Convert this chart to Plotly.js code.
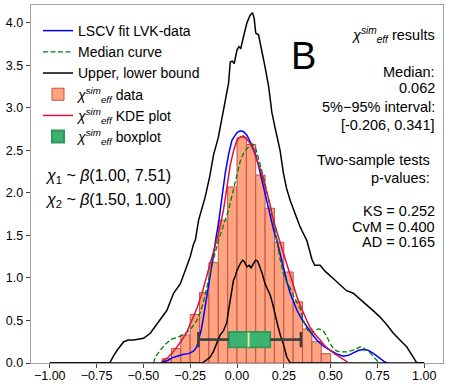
<!DOCTYPE html>
<html>
<head>
<meta charset="utf-8">
<script src="https://cdn.plot.ly/plotly-3.0.1.min.js"></script>
<style>
  body { margin: 0; background: #fff; }
  #plot { width: 449px; height: 387px; }
</style>
</head>
<body>
<div id="plot"></div>
<script>
// histogram of chi_eff sim (density)
var binCenters = [-0.375, -0.325, -0.275, -0.225, -0.175, -0.125, -0.075, -0.025, 0.025,
                  0.075, 0.125, 0.175, 0.225, 0.275, 0.325, 0.375, 0.425, 0.475];
var binDensity = [0.05, 0.17, 0.33, 0.57, 0.83, 1.18, 1.68, 2.07, 2.65,
                  2.57, 2.21, 1.82, 1.42, 1.07, 0.72, 0.40, 0.25, 0.11];

// LSCV fit of LVK data
var lscvX = [-0.405, -0.40, -0.37, -0.347, -0.32, -0.29, -0.259, -0.232, -0.215, -0.205, -0.19, -0.179,
             -0.165, -0.152, -0.14, -0.125, -0.11, -0.099, -0.08, -0.063, -0.045, -0.027, 0.0, 0.018,
             0.035, 0.053, 0.075, 0.098, 0.115, 0.133, 0.15, 0.169, 0.186, 0.196, 0.213, 0.23, 0.248,
             0.265, 0.284, 0.30, 0.32, 0.345, 0.373, 0.40, 0.426, 0.46, 0.497, 0.53, 0.568, 0.595,
             0.621, 0.65, 0.675, 0.70, 0.73, 0.764, 0.785, 0.80];
var lscvY = [0.0, 0.01, 0.03, 0.06, 0.08, 0.10, 0.11, 0.14, 0.19, 0.27, 0.40, 0.54,
             0.72, 0.89, 1.08, 1.28, 1.50, 1.64, 1.95, 2.23, 2.45, 2.62, 2.71, 2.73,
             2.72, 2.68, 2.58, 2.46, 2.32, 2.15, 1.98, 1.80, 1.66, 1.56, 1.44, 1.28, 1.13,
             0.97, 0.82, 0.72, 0.62, 0.52, 0.42, 0.34, 0.27, 0.20, 0.15, 0.11, 0.08, 0.09,
             0.12, 0.15, 0.16, 0.15, 0.11, 0.05, 0.02, 0.0];

// median curve
var medX = [-0.445, -0.436, -0.41, -0.383, -0.35, -0.32, -0.29, -0.267, -0.24, -0.214, -0.195, -0.179,
            -0.16, -0.143, -0.12, -0.099, -0.08, -0.063, -0.045, -0.036, -0.009, 0.018, 0.035, 0.053,
            0.08, 0.095, 0.106, 0.124, 0.15, 0.177, 0.204, 0.213, 0.23, 0.248, 0.265, 0.28, 0.30,
            0.32, 0.337, 0.355, 0.373, 0.39, 0.40, 0.42, 0.44, 0.46, 0.475, 0.497, 0.515, 0.533,
            0.56, 0.586, 0.62, 0.657, 0.675, 0.693, 0.715, 0.735, 0.755];
var medY = [0.0, 0.07, 0.15, 0.22, 0.28, 0.30, 0.33, 0.36, 0.42, 0.50, 0.60, 0.72,
            0.90, 1.07, 1.27, 1.44, 1.58, 1.68, 1.80, 1.88, 2.15, 2.38, 2.47, 2.52,
            2.58, 2.55, 2.48, 2.33, 2.11, 1.84, 1.56, 1.45, 1.22, 1.05, 0.95, 0.90, 0.80,
            0.72, 0.64, 0.50, 0.40, 0.35, 0.35, 0.39, 0.40, 0.38, 0.33, 0.23, 0.17, 0.14,
            0.13, 0.13, 0.15, 0.19, 0.18, 0.15, 0.11, 0.06, 0.01];

// upper bound
var upX = [-1.0, -0.68, -0.66, -0.64, -0.605, -0.58, -0.552, -0.499, -0.463, -0.427, -0.40, -0.374,
           -0.339, -0.303, -0.276, -0.25, -0.232, -0.222, -0.205, -0.17, -0.145, -0.125, -0.10, -0.08,
           -0.063, -0.045, -0.036, -0.025, -0.015, 0.0, 0.01, 0.02, 0.035, 0.053, 0.07, 0.083, 0.092,
           0.10, 0.115, 0.133, 0.15, 0.169, 0.186, 0.204, 0.23, 0.248, 0.265, 0.284, 0.31, 0.337,
           0.355, 0.373, 0.40, 0.415, 0.444, 0.47, 0.515, 0.55, 0.585, 0.621, 0.65, 0.693, 0.73,
           0.764, 0.80, 0.835, 0.87, 0.906, 0.935, 0.95, 0.96, 1.0];
var upY = [0, 0, 0.08, 0.15, 0.25, 0.27, 0.27, 0.29, 0.35, 0.46, 0.54, 0.62,
           0.82, 0.93, 1.09, 1.25, 1.40, 1.45, 1.68, 1.95, 2.2, 2.45, 2.65, 2.88,
           3.09, 3.29, 3.54, 3.55, 3.52, 3.68, 3.72, 3.70, 3.84, 4.0, 4.09, 4.12, 4.05,
           3.88, 3.86, 3.68, 3.48, 3.25, 2.95, 2.76, 2.50, 2.23, 2.05, 1.91, 1.75, 1.60,
           1.52, 1.44, 1.22, 1.15, 1.15, 1.08, 0.99, 0.92, 0.85, 0.82, 0.76, 0.68, 0.61,
           0.54, 0.45, 0.35, 0.27, 0.19, 0.09, 0.03, 0, 0];

// lower bound
var lowX = [-1.0, -0.185, -0.16, -0.143, -0.125, -0.107, -0.09, -0.072, -0.054, -0.045, -0.036, -0.027,
            -0.019, -0.008, 0.0, 0.018, 0.03, 0.04, 0.053, 0.065, 0.075, 0.088, 0.10, 0.11, 0.124,
            0.135, 0.15, 0.165, 0.177, 0.19, 0.204, 0.22, 0.235, 0.248, 0.266, 0.284, 1.0];
var lowY = [0, 0, 0.04, 0.07, 0.14, 0.25, 0.33, 0.38, 0.48, 0.62, 0.76, 0.90,
            0.97, 1.03, 1.09, 1.17, 1.21, 1.19, 1.13, 1.15, 1.12, 1.17, 1.21, 1.20, 1.12,
            1.05, 0.93, 0.86, 0.80, 0.70, 0.55, 0.42, 0.30, 0.22, 0.07, 0, 0];

// KDE of chi_eff sim
var kdeX = [-0.40, -0.365, -0.33, -0.294, -0.267, -0.24, -0.213, -0.187, -0.165, -0.143, -0.12, -0.099,
            -0.072, -0.055, -0.036, -0.018, 0.0, 0.018, 0.035, 0.053, 0.07, 0.088, 0.106, 0.124,
            0.141, 0.16, 0.177, 0.19, 0.204, 0.213, 0.23, 0.248, 0.265, 0.284, 0.30, 0.32, 0.337,
            0.355, 0.373, 0.39, 0.415, 0.444, 0.47, 0.497, 0.52, 0.55, 0.57, 0.59];
var kdeY = [0.02, 0.07, 0.16, 0.27, 0.37, 0.50, 0.65, 0.82, 0.99, 1.17, 1.36, 1.52,
            1.80, 2.05, 2.33, 2.50, 2.62, 2.66, 2.67, 2.63, 2.58, 2.50, 2.40, 2.28,
            2.15, 2.00, 1.86, 1.72, 1.60, 1.54, 1.42, 1.29, 1.15, 1.01, 0.90, 0.78, 0.68,
            0.58, 0.50, 0.42, 0.34, 0.27, 0.20, 0.15, 0.11, 0.07, 0.04, 0.01];

// boxplot stats: 5% whisker, q1, median, q3, 95% whisker
var boxStats = [-0.206, -0.043, 0.062, 0.177, 0.341];
var boxLevel = [0.275];

var chi = '<i>χ</i><sup><i>sim</i></sup><sub><i>eff</i></sub>';

var trace1 = {
  x: lscvX, y: lscvY, type: 'scatter', mode: 'lines',
  name: 'LSCV fit LVK-data',
  line: {color: '#0000ff', width: 1.5}
};
var trace2 = {
  x: medX, y: medY, type: 'scatter', mode: 'lines',
  name: 'Median curve',
  line: {color: '#008000', width: 1.3, dash: '5px,2.5px'}
};
var trace3 = {
  x: upX, y: upY, type: 'scatter', mode: 'lines',
  name: 'Upper, lower bound',
  line: {color: '#000000', width: 1.5}
};
var trace4 = {
  x: lowX, y: lowY, type: 'scatter', mode: 'lines',
  name: 'lower', showlegend: false,
  line: {color: '#000000', width: 1.5}
};
var trace5 = {
  x: binCenters, y: binDensity, type: 'bar', width: 0.05,
  name: chi + ' data',
  marker: {color: '#ffa47f', line: {color: '#c0504d', width: 1}}
};
var trace6 = {
  x: kdeX, y: kdeY, type: 'scatter', mode: 'lines',
  name: chi + ' KDE plot',
  line: {color: '#dc143c', width: 1.5}
};
var trace7 = {
  type: 'box', orientation: 'h',
  y: boxLevel,
  lowerfence: [boxStats[0]], q1: [boxStats[1]], median: [boxStats[2]],
  q3: [boxStats[3]], upperfence: [boxStats[4]],
  width: 0.18, whiskerwidth: 0,
  name: chi + ' boxplot',
  fillcolor: '#3cb371',
  line: {color: '#2e9a5e', width: 2}
};
// whiskers and caps on top of the box
var trace8 = {
  x: [boxStats[0], boxStats[1], null, boxStats[3], boxStats[4]],
  y: [boxLevel[0], boxLevel[0], null, boxLevel[0], boxLevel[0]],
  type: 'scatter', mode: 'lines', showlegend: false, hoverinfo: 'skip',
  line: {color: '#3d3d3d', width: 2.5}
};
var trace9 = {
  x: [boxStats[0], boxStats[0], null, boxStats[4], boxStats[4]],
  y: [boxLevel[0] - 0.09, boxLevel[0] + 0.09, null, boxLevel[0] - 0.09, boxLevel[0] + 0.09],
  type: 'scatter', mode: 'lines', showlegend: false, hoverinfo: 'skip',
  line: {color: '#3d3d3d', width: 2.5}
};
var trace10 = {
  x: [boxStats[2], boxStats[2]],
  y: [boxLevel[0] - 0.085, boxLevel[0] + 0.085],
  type: 'scatter', mode: 'lines', showlegend: false, hoverinfo: 'skip',
  line: {color: '#eee8aa', width: 2}
};

var data = [trace1, trace2, trace3, trace4, trace5, trace6, trace7, trace8, trace9, trace10];

var fnt = 'Liberation Sans, Arial, sans-serif';

function txt(s, x, y, size, anchor) {
  return {text: s, xref: 'paper', yref: 'paper', x: x, y: y, showarrow: false,
          xanchor: anchor, yanchor: 'middle', font: {family: fnt, size: size, color: '#000'}};
}

var layout = {
  width: 449, height: 387,
  margin: {l: 31, r: 6, t: 5, b: 24.3},
  paper_bgcolor: '#fff', plot_bgcolor: '#fff',
  showlegend: true,
  font: {family: fnt, size: 12.5, color: '#000'},
  xaxis: {
    range: [-1.1, 1.1], tickvals: [-1, -0.75, -0.5, -0.25, 0, 0.25, 0.5, 0.75, 1],
    tickformat: '.2f', ticks: 'outside', ticklen: 4, tickcolor: '#444',
    ticklabelstandoff: -3,
    showgrid: false, zeroline: false, showline: true, mirror: true,
    linecolor: '#a0a0a0', linewidth: 1.3
  },
  yaxis: {
    range: [0, 4.21], dtick: 0.5, tickformat: '.1f', ticks: 'outside', ticklen: 4, tickcolor: '#444',
    showgrid: false, zeroline: false, showline: true, mirror: true,
    linecolor: '#a0a0a0', linewidth: 1.3
  },
  legend: {
    x: 0.017, y: 0.972, xanchor: 'left', yanchor: 'top',
    traceorder: 'normal', tracegroupgap: 0,
    bgcolor: 'rgba(255,255,255,0)', borderwidth: 0,
    font: {family: fnt, size: 14, color: '#000'}
  },
  annotations: [
    txt('B', 0.661, 0.858, 38, 'center'),
    txt(chi + ' results', 0.985, 0.916, 14.5, 'right'),
    txt('Median:', 0.985, 0.813, 14.5, 'right'),
    txt('0.062', 0.985, 0.767, 14.5, 'right'),
    txt('5%−95% interval:', 0.985, 0.716, 14.5, 'right'),
    txt('[-0.206, 0.341]', 0.985, 0.665, 14.5, 'right'),
    txt('Two-sample tests', 0.974, 0.567, 14.5, 'right'),
    txt('p-values:', 0.973, 0.516, 14.5, 'right'),
    txt('KS = 0.252', 0.985, 0.425, 14.5, 'right'),
    txt('CvM = 0.400', 0.985, 0.380, 14.5, 'right'),
    txt('AD = 0.165', 0.985, 0.337, 14.5, 'right'),
    txt('<i>χ</i><sub>1</sub> ~ <i>β</i>(1.00, 7.51)', 0.030, 0.520, 16, 'left'),
    txt('<i>χ</i><sub>2</sub> ~ <i>β</i>(1.50, 1.00)', 0.030, 0.455, 16, 'left')
  ]
};

Plotly.newPlot('plot', data, layout, {staticPlot: true});
</script>
</body>
</html>
